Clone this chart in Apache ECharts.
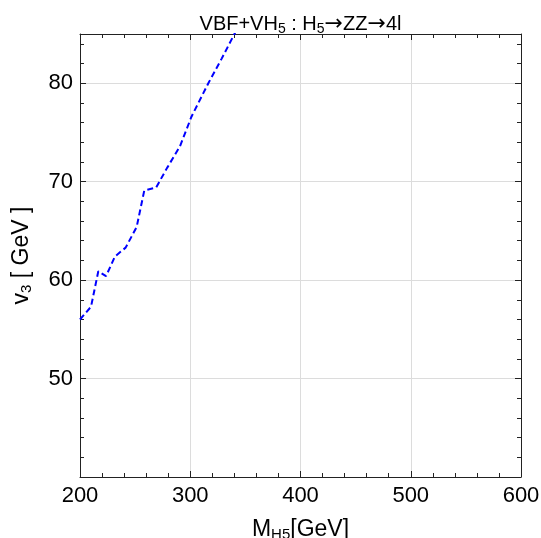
<!DOCTYPE html>
<html>
<head>
<meta charset="utf-8">
<script src="https://cdn.jsdelivr.net/npm/echarts@6/dist/echarts.min.js"></script>
<style>
html,body{margin:0;padding:0;background:#fff;}
#chart{width:541px;height:538px;}
</style>
</head>
<body>
<div id="chart"></div>
<script>
// Data
var massH5 = [200, 210, 216.6, 223.6, 231.7, 241.4, 251.4, 258.3, 269, 279, 290.7, 301.1, 316.4, 328.5, 341];
var v3Limit = [56.0, 57.3, 60.9, 60.4, 62.4, 63.3, 65.4, 69.1, 69.4, 71.4, 73.6, 76.6, 80.0, 82.5, 85.2];
var xTicks = [200, 300, 400, 500, 600];
var yTicks = [50, 60, 70, 80];

var FONT = '"Liberation Sans", Arial, sans-serif';
var AX = '#222';

var chart = echarts.init(document.getElementById('chart'));
var lineData = massH5.map(function (m, i) { return [m, v3Limit[i]]; });

var richLabel = function (size, subSize, shift) {
  return {
    n: { fontSize: size, fontFamily: FONT, color: '#000', lineHeight: size + 2 },
    a: { fontSize: size + 2, fontFamily: '"DejaVu Sans", sans-serif', color: '#000', lineHeight: size + 2 },
    s: { fontSize: subSize, fontFamily: FONT, color: '#000', lineHeight: subSize + 2, padding: [shift, 0, 0, 0] }
  };
};

chart.setOption({
  animation: false,
  backgroundColor: '#fff',
  grid: { left: 80, right: 20, top: 34, bottom: 61, containLabel: false, outerBoundsMode: 'none' },
  xAxis: [
    {
      type: 'value', position: 'bottom', min: 200, max: 600, interval: 100,
      axisLine: { show: true, onZero: false, lineStyle: { color: AX, width: 1 } },
      axisTick: { show: true, inside: true, length: 6, lineStyle: { color: AX } },
      minorTick: { show: true, splitNumber: 5, length: 4, lineStyle: { color: AX } },
      splitLine: { show: true, lineStyle: { color: '#dcdcdc', width: 1 } },
      axisLabel: {
        fontSize: 22, fontFamily: FONT, color: '#000', margin: 8,
        formatter: function (v) { return xTicks.indexOf(v) >= 0 ? String(v) : ''; }
      },
      name: '{n|M}{s|H5}{n|[GeV]}',
      nameLocation: 'middle', nameGap: 40,
      nameTextStyle: { rich: richLabel(23, 15, 11) }
    },
    {
      type: 'value', position: 'top', min: 200, max: 600, interval: 100,
      axisLine: { show: true, onZero: false, lineStyle: { color: AX, width: 1 } },
      axisTick: { show: true, inside: true, length: 6, lineStyle: { color: AX } },
      minorTick: { show: true, splitNumber: 5, length: 4, lineStyle: { color: AX } },
      splitLine: { show: false },
      axisLabel: { show: false },
      name: '{n|VBF+VH}{s|5}{n| : H}{s|5}{a|→}{n|ZZ}{a|→}{n|4l}',
      nameLocation: 'middle', nameGap: -1,
      nameTextStyle: { rich: richLabel(20, 14, 10) }
    }
  ],
  yAxis: [
    {
      type: 'value', position: 'left', min: 40, max: 85, interval: 10,
      axisLine: { show: true, onZero: false, lineStyle: { color: AX, width: 1 } },
      axisTick: { show: true, inside: true, length: 6, lineStyle: { color: AX } },
      splitLine: { show: true, lineStyle: { color: '#dcdcdc', width: 1 } },
      axisLabel: {
        fontSize: 22, fontFamily: FONT, color: '#000', margin: 7,
        showMinLabel: false, showMaxLabel: false,
        formatter: function (v) { return yTicks.indexOf(v) >= 0 ? String(v) : ''; }
      },
      name: '{n|v}{s|3}{n| [ GeV ]}',
      nameLocation: 'middle', nameGap: 46, nameRotate: 90,
      nameTextStyle: { rich: richLabel(23, 15, 11) }
    },
    {
      type: 'value', position: 'left', min: 40, max: 85, interval: 2,
      axisLine: { show: false },
      axisTick: { show: true, inside: true, length: 4, lineStyle: { color: AX } },
      splitLine: { show: false },
      axisLabel: { show: false }
    },
    {
      type: 'value', position: 'right', min: 40, max: 85, interval: 10,
      axisLine: { show: true, onZero: false, lineStyle: { color: AX, width: 1 } },
      axisTick: { show: true, inside: true, length: 6, lineStyle: { color: AX } },
      splitLine: { show: false },
      axisLabel: { show: false }
    },
    {
      type: 'value', position: 'right', min: 40, max: 85, interval: 2,
      axisLine: { show: false },
      axisTick: { show: true, inside: true, length: 4, lineStyle: { color: AX } },
      splitLine: { show: false },
      axisLabel: { show: false }
    }
  ],
  series: [
    {
      type: 'line', xAxisIndex: 0, yAxisIndex: 0,
      data: lineData, showSymbol: false, symbol: 'none', clip: true,
      lineStyle: { color: '#0000ff', width: 2, type: [6, 3.5] }
    }
  ]
});
</script>
</body>
</html>
